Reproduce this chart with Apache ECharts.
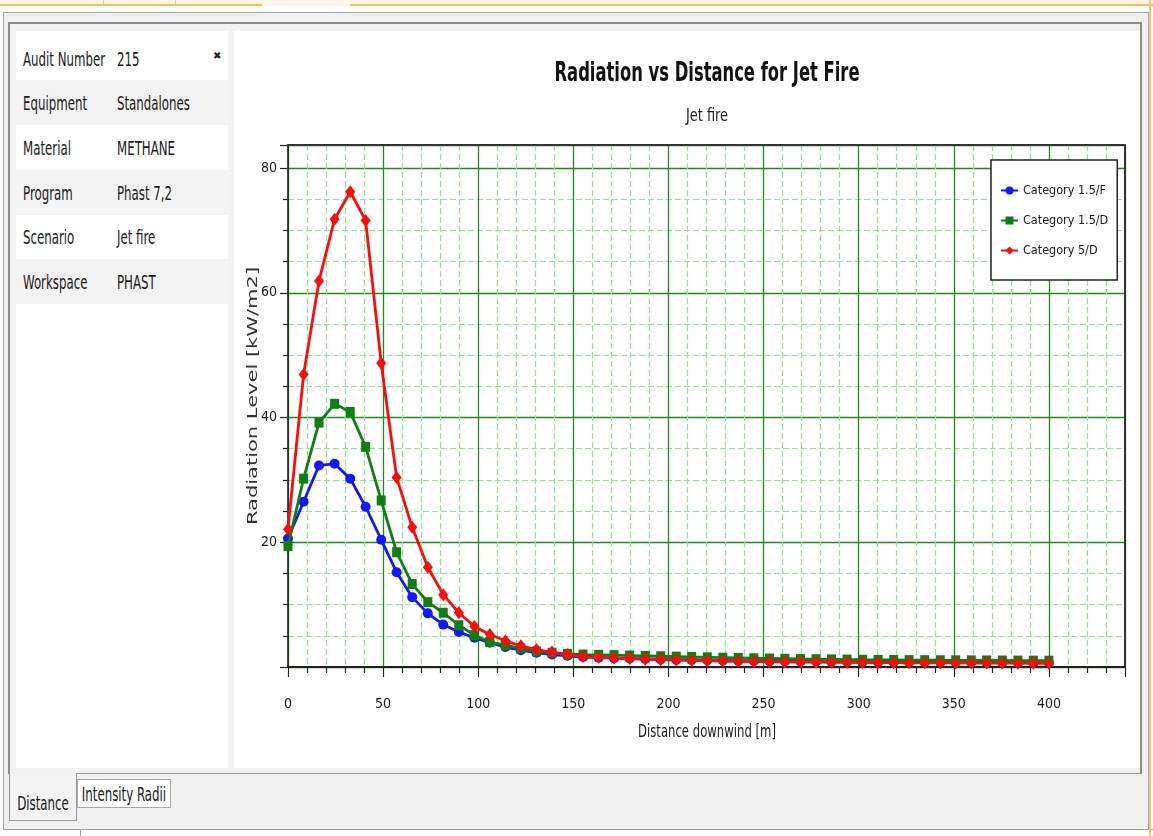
<!DOCTYPE html>
<html>
<head>
<meta charset="utf-8">
<title>Radiation vs Distance for Jet Fire</title>
<script src="https://cdn.jsdelivr.net/npm/echarts@6/dist/echarts.min.js"></script>
<style>
  body {
    margin: 0;
    width: 1153px;
    height: 836px;
    position: relative;
    overflow: hidden;
    background: #fff;
    font-family: "DejaVu Sans Condensed", "Liberation Sans", sans-serif;
    color: #1a1a1a;
  }
  .abs { position: absolute; box-sizing: border-box; }
  .topbar { left: 0; top: 0; width: 1153px; height: 6px; background: #fdf3e3; border-bottom: 2px solid #f5bd5b; }
  .topgap { left: 262px; top: 0; width: 88px; height: 6px; background: #fdf7ef; }
  .topdiv { top: 0; width: 1px; height: 4px; background: #d8c7a8; }
  .rightedge { left: 1149px; top: 0; width: 2px; height: 836px; background: #f7c66e; }
  .outer { left: 3px; top: 12px; width: 1146px; height: 818px; background: #f0f0f0; border: 1px solid #a8a8a8; }
  .inner { left: 8px; top: 22px; width: 1134px; height: 752px; background: #f2f2f2; border: 2px solid #8c8c8c; border-bottom: 1px solid #9a9a9a; }
  .leftpanel { left: 16px; top: 31px; width: 212px; height: 737px; background: #fff; }
  .row { left: 16px; width: 212px; height: 45px; }
  .row.alt { background: #f3f3f3; }
  .sq {
    position: absolute;
    top: 50%;
    white-space: nowrap;
    font-size: 19px;
    line-height: 22px;
    transform-origin: 0 50%;
    transform: translateY(-50%) scaleX(0.69);
  }
  .row .k { left: 7px; }
  .row .v { left: 101px; }
  .close { left: 213px; top: 50px; font-size: 10px; font-weight: bold; font-family: "DejaVu Sans", sans-serif; color: #222; }
  .chartpanel { left: 234px; top: 31px; width: 906px; height: 737px; background: #fff; }
  .tab1 { left: 9px; top: 773px; width: 68px; height: 48px; background: #f3f3f3; border: 1px solid #9a9a9a; border-top: none; }
  .tab2 { left: 77px; top: 779px; width: 94px; height: 29px; background: #fff; border: 1px solid #a8a8a8; }
  .tab .sq { left: 50%; transform-origin: 50% 50%; transform: translate(-50%, -50%) scaleX(0.69); }
  .tab1 .sq { top: 30px; }
  .bottomline { left: 3px; top: 829px; width: 1150px; height: 1px; background: #a0a0a0; }
  .bottomtick { left: 80px; top: 829px; width: 1px; height: 7px; background: #a0a0a0; }
  #chart { position: absolute; left: 0; top: 0; width: 1153px; height: 836px; }
</style>
</head>
<body>
<div class="abs topbar"></div>
<div class="abs topgap"></div>
<div class="abs topdiv" style="left:103px"></div>
<div class="abs topdiv" style="left:175px"></div>
<div class="abs outer"></div>
<div class="abs inner"></div>
<div class="abs leftpanel"></div>
<div class="abs row" style="top:36px"><span class="sq k">Audit Number</span><span class="sq v">215</span></div>
<div class="abs close">✖</div>
<div class="abs row alt" style="top:80px"><span class="sq k">Equipment</span><span class="sq v">Standalones</span></div>
<div class="abs row" style="top:125px"><span class="sq k">Material</span><span class="sq v">METHANE</span></div>
<div class="abs row alt" style="top:170px"><span class="sq k">Program</span><span class="sq v">Phast 7,2</span></div>
<div class="abs row" style="top:214px"><span class="sq k">Scenario</span><span class="sq v">Jet fire</span></div>
<div class="abs row alt" style="top:259px"><span class="sq k">Workspace</span><span class="sq v">PHAST</span></div>
<div class="abs chartpanel"></div>
<div class="abs tab tab1"><span class="sq">Distance</span></div>
<div class="abs tab tab2"><span class="sq">Intensity Radii</span></div>
<div class="abs bottomline"></div>
<div class="abs bottomtick"></div>
<div class="abs rightedge"></div>
<div id="chart"></div>

<script>
// distance downwind [m]
const distances = [0, 8.2, 16.3, 24.5, 32.7, 40.8, 49.0, 57.1, 65.3, 73.5,
  81.6, 89.8, 98.0, 106.1, 114.3, 122.4, 130.6, 138.8, 146.9, 155.1,
  163.3, 171.4, 179.6, 187.8, 195.9, 204.1, 212.2, 220.4, 228.6, 236.7,
  244.9, 253.1, 261.2, 269.4, 277.6, 285.7, 293.9, 302.0, 310.2, 318.4,
  326.5, 334.7, 342.9, 351.0, 359.2, 367.3, 375.5, 383.7, 391.8, 400.0];

// radiation level [kW/m2]
const cat15F = [20.6, 26.5, 32.3, 32.6, 30.2, 25.7, 20.4, 15.2, 11.2, 8.6,
  6.8, 5.6, 4.7, 3.9, 3.2, 2.7, 2.3, 2.0, 1.8, 1.6,
  1.5, 1.42, 1.35, 1.28, 1.22, 1.17, 1.12, 1.07, 1.03, 1.0,
  0.97, 0.94, 0.91, 0.89, 0.87, 0.85, 0.83, 0.82, 0.81, 0.8,
  0.79, 0.78, 0.77, 0.76, 0.75, 0.74, 0.73, 0.72, 0.71, 0.7];

const cat15D = [19.4, 30.2, 39.2, 42.2, 40.9, 35.3, 26.7, 18.4, 13.3, 10.4,
  8.7, 6.7, 5.1, 4.0, 3.5, 3.0, 2.5, 2.3, 2.1, 2.0,
  1.95, 1.9, 1.84, 1.78, 1.72, 1.66, 1.6, 1.55, 1.5, 1.45,
  1.4, 1.36, 1.32, 1.28, 1.25, 1.22, 1.19, 1.16, 1.14, 1.12,
  1.1, 1.09, 1.08, 1.07, 1.06, 1.05, 1.04, 1.03, 1.02, 1.01];

const cat5D = [22.1, 46.9, 61.9, 71.8, 76.2, 71.6, 48.7, 30.4, 22.4, 16.0,
  11.6, 8.7, 6.5, 5.2, 4.2, 3.4, 2.8, 2.4, 2.0, 1.7,
  1.55, 1.45, 1.35, 1.25, 1.18, 1.12, 1.06, 1.0, 0.96, 0.92,
  0.88, 0.85, 0.82, 0.8, 0.78, 0.76, 0.74, 0.72, 0.7, 0.69,
  0.68, 0.67, 0.66, 0.65, 0.64, 0.63, 0.62, 0.61, 0.6, 0.6];

const seriesNames = ["Category 1.5/F", "Category 1.5/D", "Category 5/D"];
const seriesColors = ["#1414ff", "#0f7f0f", "#ff0a0a"];
const seriesSymbols = ["circle", "rect", "diamond"];
const seriesSizes = [10, [9, 10], [10, 13]];
const seriesValues = [cat15F, cat15D, cat5D];

const COND = '"DejaVu Sans Condensed", "Liberation Sans", sans-serif';
const TEXT = "#1a1a1a";
const MAJOR = "#1f8a1f";
const MINOR = "#8ee88e";

let series = seriesValues.map((vals, k) => ({
  name: seriesNames[k],
  type: "line",
  data: distances.map((d, i) => [d, vals[i]]),
  symbol: seriesSymbols[k],
  symbolSize: seriesSizes[k],
  showAllSymbol: true,
  color: seriesColors[k],
  lineStyle: { width: 2.8, color: seriesColors[k] },
  itemStyle: { color: seriesColors[k] },
  z: 5 + k,
}));

let option = {
  animation: false,
  graphic: [
    {
      // chart title
      type: "text",
      x: 707,
      y: 74,
      scaleX: 0.7,
      style: {
        text: "Radiation vs Distance for Jet Fire",
        font: 'bold 26px "DejaVu Sans Condensed", sans-serif',
        fill: "#111",
        align: "center",
        verticalAlign: "middle",
      },
    },
    {
      type: "text",
      x: 707,
      y: 116,
      scaleX: 0.8,
      style: {
        text: "Jet fire",
        font: '18px "DejaVu Sans Condensed", sans-serif',
        fill: TEXT,
        align: "center",
        verticalAlign: "middle",
      },
    },
    {
      // axis names
      type: "text",
      x: 707,
      y: 732,
      scaleX: 0.72,
      style: {
        text: "Distance downwind [m]",
        font: '18px "DejaVu Sans Condensed", sans-serif',
        fill: TEXT,
        align: "center",
        verticalAlign: "middle",
      },
    },
    {
      type: "text",
      x: 253,
      y: 396,
      rotation: Math.PI / 2,
      scaleY: 0.68,
      style: {
        text: "Radiation Level [kW/m2]",
        font: '21px "DejaVu Sans", sans-serif',
        fill: "#333",
        align: "center",
        verticalAlign: "middle",
      },
    },
  ],
  grid: {
    left: 288,
    top: 145,
    width: 837,
    height: 522,
    containLabel: false,
  },
  legend: {
    orient: "vertical",
    left: 991,
    top: 160,
    padding: [24, 9, 23, 9],
    itemGap: 17,
    itemWidth: 17,
    itemHeight: 10,
    backgroundColor: "#fff",
    borderColor: "#222",
    borderWidth: 1.5,
    borderRadius: 0,
    textStyle: { fontFamily: COND, fontSize: 12.5, color: TEXT },
    data: seriesNames,
  },
  xAxis: [
    {
      type: "value",
      min: 0,
      max: 440,
      interval: 50,
      position: "bottom",
      axisLine: { show: true, onZero: false, lineStyle: { color: "#222", width: 2 } },
      axisTick: { show: true, length: 10, lineStyle: { color: "#222", width: 1.2 } },
      minorTick: { show: true, splitNumber: 5, length: 6, lineStyle: { color: "#222", width: 1.2 } },
      axisLabel: { margin: 30, fontFamily: COND, fontSize: 14, color: TEXT, showMaxLabel: false },
      splitLine: { show: true, lineStyle: { color: MAJOR, width: 1.3 } },
      minorSplitLine: { show: true, lineStyle: { color: MINOR, width: 1.2, type: [6, 3] } },
    },
    {
      type: "value",
      min: 0,
      max: 440,
      position: "top",
      axisLine: { show: true, onZero: false, lineStyle: { color: "#333", width: 2 } },
      axisTick: { show: false },
      axisLabel: { show: false },
      splitLine: { show: false },
    },
  ],
  yAxis: [
    {
      type: "value",
      min: 0,
      max: 83.7,
      interval: 20,
      position: "left",
      axisLine: { show: true, onZero: false, lineStyle: { color: "#222", width: 1.6 } },
      axisTick: { show: true, length: 8, lineStyle: { color: "#222", width: 1.2 } },
      minorTick: { show: true, splitNumber: 4, length: 5, lineStyle: { color: "#222", width: 1.2 } },
      axisLabel: {
        margin: 11,
        fontFamily: COND,
        fontSize: 14,
        color: TEXT,
        showMinLabel: false,
        showMaxLabel: false,
      },
      splitLine: { show: true, lineStyle: { color: MAJOR, width: 1.3 } },
      minorSplitLine: { show: true, lineStyle: { color: MINOR, width: 1.2, type: [6, 3] } },
    },
    {
      type: "value",
      min: 0,
      max: 83.7,
      position: "right",
      axisLine: { show: true, onZero: false, lineStyle: { color: "#333", width: 2 } },
      axisTick: { show: false },
      axisLabel: { show: false },
      splitLine: { show: false },
    },
  ],
  series: series,
};

let myChart = echarts.init(document.getElementById("chart"), null, { renderer: "canvas" });
myChart.setOption(option, true);
window.onresize = myChart.resize;
</script>
</body>
</html>
